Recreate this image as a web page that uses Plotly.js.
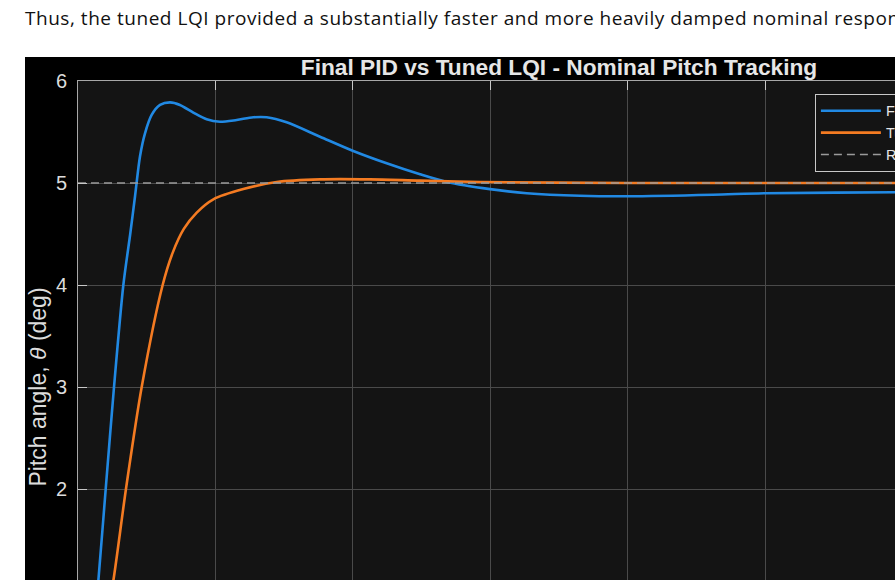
<!DOCTYPE html>
<html>
<head>
<meta charset="utf-8">
<script src="https://cdn.plot.ly/plotly-3.0.1.min.js"></script>
<style>
  html, body { margin: 0; padding: 0; background: #ffffff; overflow: hidden; width: 895px; height: 580px; }
  #para {
    position: absolute; left: 25px; top: 6px; white-space: nowrap;
    font-family: "Open Sans", sans-serif; font-size: 19px; letter-spacing: 0.53px; line-height: 24px; color: #111;
  }
  #myDiv { position: absolute; left: 25px; top: 57px; width: 1100px; height: 700px; }
</style>
</head>
<body>
<div id="para">Thus, the tuned LQI provided a substantially faster and more heavily damped nominal response.</div>
<div id="myDiv"></div>
<script>
// time (s) and pitch angle (deg)
const timePid = [0, 0.05, 0.09, 0.12, 0.148, 0.2016, 0.262, 0.33, 0.38, 0.415, 0.451, 0.4875, 0.536, 0.597, 0.669, 0.742, 0.839, 0.936, 1.033, 1.155, 1.276, 1.373, 1.518, 1.761, 2.003, 2.246, 2.489, 2.683, 2.998, 3.265, 3.653, 4.002, 4.621, 5.0, 5.945, 7.0];
const anglePid = [0, 0.06, 0.3, 0.68, 1.1, 2.0, 3.0, 4.0, 4.5, 4.87, 5.26, 5.487, 5.667, 5.765, 5.79, 5.765, 5.69, 5.624, 5.6, 5.618, 5.644, 5.644, 5.595, 5.454, 5.314, 5.193, 5.085, 5.01, 4.94, 4.9, 4.875, 4.87, 4.885, 4.9, 4.91, 4.93];

const timeLqi = [0, 0.06, 0.12, 0.19, 0.257, 0.349, 0.4635, 0.616, 0.69, 0.77, 0.864, 0.985, 1.203, 1.446, 1.761, 2.125, 2.489, 2.925, 4.0, 5.0, 7.0];
const angleLqi = [0, 0.04, 0.22, 0.6, 1.1, 2.0, 3.0, 4.0, 4.32, 4.55, 4.71, 4.84, 4.94, 5.01, 5.036, 5.036, 5.023, 5.01, 5.0, 5.0, 5.0];

const timeRef = [0, 7];
const angleRef = [5, 5];

const seriesNames = ['Final PID', 'Tuned LQI', 'Reference'];

let lines = [
  {
    x: timePid, y: anglePid, type: 'scatter', mode: 'lines', name: seriesNames[0],
    line: {color: '#2189e3', width: 2.6, shape: 'spline', smoothing: 0.8}
  },
  {
    x: timeLqi, y: angleLqi, type: 'scatter', mode: 'lines', name: seriesNames[1],
    line: {color: '#f47b22', width: 2.6, shape: 'spline', smoothing: 0.8}
  },
  {
    x: timeRef, y: angleRef, type: 'scatter', mode: 'lines', name: seriesNames[2],
    line: {color: '#9a9a9a', width: 1.5, dash: '8px,5px'}
  }
];

let layout = {
  width: 1100,
  height: 700,
  margin: {l: 53, r: 85, t: 24, b: 64},
  paper_bgcolor: '#000000',
  plot_bgcolor: '#141414',
  showlegend: true,
  title: {
    text: '<b>Final PID vs Tuned LQI - Nominal Pitch Tracking</b>',
    font: {family: 'Liberation Sans', size: 22.7, color: '#e6e6e6'},
    x: 0.5, xref: 'paper', xanchor: 'center',
    y: 1 - 10 / 700, yref: 'container', yanchor: 'middle'
  },
  xaxis: {
    range: [0, 7],
    dtick: 1,
    showgrid: true,
    gridcolor: '#4a4a4a',
    gridwidth: 1,
    zeroline: false,
    showline: true,
    mirror: 'ticks',
    linecolor: '#a8a8a8',
    linewidth: 1,
    ticks: 'inside',
    ticklen: 9,
    tickcolor: '#c8c8c8',
    tickfont: {family: 'Liberation Sans', size: 20, color: '#dcdcdc'},
    title: {text: 'Time (s)', font: {family: 'Liberation Sans', size: 23, color: '#dcdcdc'}}
  },
  yaxis: {
    range: [0, 6],
    dtick: 1,
    showgrid: true,
    gridcolor: '#4a4a4a',
    gridwidth: 1,
    zeroline: false,
    showline: true,
    mirror: 'ticks',
    linecolor: '#a8a8a8',
    linewidth: 1,
    ticks: 'inside',
    ticklen: 9,
    tickcolor: '#c8c8c8',
    ticklabelstandoff: 6,
    tickfont: {family: 'Liberation Sans', size: 20, color: '#dcdcdc'},
    title: {text: 'Pitch angle, <i>θ</i> (deg)', standoff: 8, font: {family: 'Liberation Sans', size: 23, color: '#dcdcdc'}}
  },
  legend: {
    x: 0.766, y: 0.979, xanchor: 'left', yanchor: 'top',
    bgcolor: '#141414',
    bordercolor: '#c8c8c8',
    borderwidth: 1,
    itemwidth: 60,
    font: {family: 'Liberation Sans', size: 14.5, color: '#e6e6e6'}
  }
};

Plotly.newPlot('myDiv', lines, layout, {displayModeBar: false, staticPlot: true});
</script>
</body>
</html>
